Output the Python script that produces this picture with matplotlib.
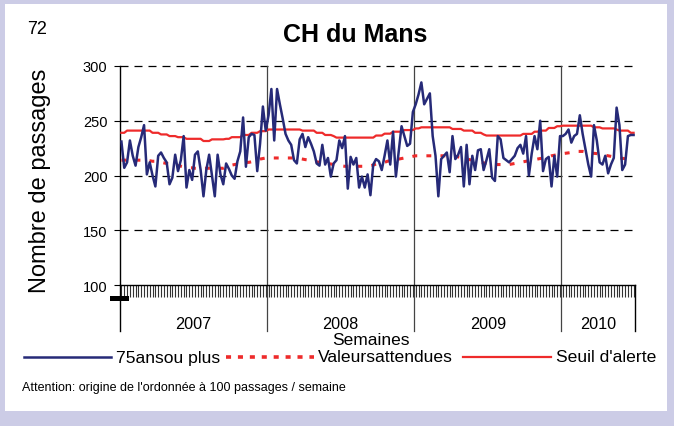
import numpy as np
import matplotlib
matplotlib.use("Agg")
import matplotlib.pyplot as plt
from matplotlib.lines import Line2D
from matplotlib.patches import Rectangle
import matplotlib.transforms as mtransforms

plt.rcParams['font.family'] = ['Liberation Sans', 'DejaVu Sans']

# ---------------- data ----------------
years = ["2007", "2008", "2009", "2010"]
weeks_per_year = [52, 52, 52, 26]

passages_2007 = [231, 207, 212, 232, 218, 209, 226, 235, 246, 201,
                 212, 200, 190, 218, 221, 216, 212, 192, 198, 219,
                 204, 214, 236, 189, 205, 196, 219, 222, 205, 181,
                 205, 219, 200, 181, 219, 201, 192, 211, 206, 200,
                 197, 213, 222, 253, 208, 235, 238, 237, 204, 229,
                 263, 241]
passages_2008 = [255, 279, 232, 279, 265, 252, 238, 232, 228, 214,
                 211, 233, 238, 226, 235, 229, 222, 211, 209, 228,
                 210, 216, 199, 211, 214, 232, 225, 236, 188, 217,
                 210, 216, 189, 199, 189, 201, 182, 210, 215, 213,
                 205, 218, 232, 210, 240, 199, 222, 245, 236, 227,
                 229, 258]
passages_2009 = [265, 274, 285, 265, 270, 275, 236, 218, 181, 215,
                 218, 221, 203, 236, 215, 219, 226, 190, 228, 192,
                 218, 205, 223, 224, 205, 214, 224, 198, 195, 236,
                 233, 216, 214, 212, 215, 218, 225, 228, 220, 236,
                 200, 220, 236, 224, 250, 204, 215, 217, 190, 218,
                 199, 236]
passages_2010 = [236, 238, 242, 230, 236, 238, 255, 238, 224, 210,
                 199, 246, 232, 212, 210, 218, 202, 210, 216, 262,
                 246, 205, 210, 236, 237, 237]

attendu_2007 = [214, 214, 214, 214, 214, 214, 214, 214, 214, 214,
                213.5, 213, 213, 212.5, 212, 211.5, 211, 210.5, 210, 209.5,
                209, 208.5, 208, 207.5, 207, 207, 206.6, 206.6, 206.6, 206.6,
                206.6, 206.6, 206.6, 206.6, 206.6, 206.6, 206.6, 207.5, 208.5, 209.5,
                210, 210.5, 211, 211.5, 212, 212, 212.5, 213, 214, 215,
                215.5, 216]
attendu_2008 = [216, 216, 216, 216, 216, 216, 216, 216, 216, 216,
                216, 215.5, 215, 214.5, 214.2, 213.5, 213, 212.5, 212, 212,
                211.5, 211, 210.5, 210, 209.6, 209, 208.7, 208.4, 208.4, 208.4,
                208.4, 208.4, 208.4, 208.4, 208.4, 208.4, 209, 209.5, 210.5, 211,
                211.5, 212, 213, 213.5, 214, 214.5, 215, 215.5, 216, 216.6,
                217, 217.5]
attendu_2009 = [218, 218, 218, 218, 218, 218, 218, 218, 218, 218,
                218, 218, 218, 218, 217.5, 217, 216.5, 216, 215, 214.5,
                214, 213, 212.5, 212, 211.5, 211, 210.5, 210, 210, 210,
                210, 210, 210, 210, 210.5, 211, 211.5, 212, 212.5, 213,
                213.5, 214, 214.5, 215, 215.5, 216, 216.5, 217, 218, 218.5,
                219, 219.5]
attendu_2010 = [220, 220.3, 220.5, 221, 221.5, 222, 222, 222, 221.5, 221,
                220.5, 220.3, 220, 219.5, 219, 218.5, 218, 217.5, 217, 216.5,
                216, 215.7, 215.5, 215, 215, 215]

seuil_2007 = [239, 239, 241, 241, 241, 241, 241, 241, 241, 241,
              241, 239, 239, 239, 237.5, 237.5, 237.5, 236, 236, 236,
              235, 235, 235, 233.5, 233.5, 233.5, 233.5, 233.5, 233.5, 231.5,
              231.5, 231.5, 233, 233, 233, 233, 233, 233.5, 233.5, 235,
              235, 235, 235, 237, 237, 237, 239, 239, 239, 240.5,
              240.5, 240.5]
seuil_2008 = [242, 242, 242, 242, 242, 242, 242, 242, 242, 242,
              242, 242, 241, 241, 241, 241, 241, 239, 239, 239,
              237, 237, 237, 236, 234.6, 234.6, 234.6, 234.6, 234.6, 234.6,
              234.6, 234.6, 234.6, 234.6, 234.6, 234.6, 234.6, 234.6, 236.5, 236.5,
              236.5, 238.2, 238.2, 238.2, 240, 240, 240, 240, 241.5, 241.5,
              241.5, 241.5]
seuil_2009 = [243, 243, 244, 244, 244, 244, 244, 244, 244, 244,
              244, 244, 244, 242.5, 242.5, 242.5, 242.5, 241, 241, 241,
              241, 239, 239, 239, 237.5, 236.5, 236.5, 236.5, 236.5, 236.5,
              236.5, 236.5, 236.5, 236.5, 236.5, 236.5, 236.5, 236.5, 238, 238,
              238, 238, 240, 240, 241, 241, 241, 243.4, 243.4, 243.4,
              245, 245]
seuil_2010 = [245.5, 245.5, 245.5, 245.5, 245.5, 245.5, 245.5, 245.5, 245.5, 245.5,
              245.5, 244, 244, 244, 243, 243, 243, 243, 243, 242,
              241, 241, 241, 241, 239, 239]

y_ticks = [100, 150, 200, 250, 300]

passages = passages_2007 + passages_2008 + passages_2009 + passages_2010
attendu = attendu_2007 + attendu_2008 + attendu_2009 + attendu_2010
seuil = seuil_2007 + seuil_2008 + seuil_2009 + seuil_2010

# ---------------- figure ----------------
W, H = 674, 427
fig = plt.figure(figsize=(W / 100, H / 100), dpi=100, facecolor='#CCCCE6')
fig.patches.append(Rectangle((5 / W, 15 / H), 662 / W, 407 / H,
                             transform=fig.transFigure, facecolor='white',
                             edgecolor='none', zorder=-5))

ax = fig.add_axes([120 / W, (H - 286) / H, 515 / W, 219 / H])
ax.set_zorder(1)
ax.patch.set_visible(False)

n = len(passages)
x = np.arange(n)
ax.set_xlim(-0.5, n - 0.5)
ax.set_ylim(100, 300)

for yv in y_ticks[1:]:
    ax.axhline(yv, color='black', lw=0.9, ls=(0, (6.4, 4.8)), zorder=1, clip_on=False)

trans = mtransforms.blended_transform_factory(ax.transData, ax.transAxes)
bounds = list(np.cumsum(weeks_per_year) - 0.5)
starts = [-0.5] + bounds[:-1]
low = -0.21
for b in bounds[:-1]:
    ax.plot([b, b], [low, 1.0], transform=trans, color='#444444', lw=0.9,
            clip_on=False, zorder=2)
ax.plot([-0.5, -0.5], [low, 0], transform=trans, color='black', lw=1.0, clip_on=False)
ax.plot([bounds[-1], bounds[-1]], [low, 0], transform=trans, color='black', lw=1.0, clip_on=False)

for s, e, yr in zip(starts, bounds, years):
    ax.text((s + e) / 2, -0.178, yr, transform=trans, ha='center', va='center',
            fontsize=11.7, color='black')

ax.text((371 - 120) / 515, -0.25, 'Semaines', transform=ax.transAxes,
        ha='center', va='center', fontsize=12.5)

ax.plot(x, seuil, color='#EE2B2B', lw=1.6, zorder=3)
ax.plot(x, attendu, color='#EE2B2B', lw=2.2, ls=(0, (1.6, 3.0)), zorder=3)
ax.plot(x, passages, color='#262A78', lw=1.8, zorder=4)

ax.set_xticks(x)
ax.set_xticklabels([])
ax.tick_params(axis='x', direction='out', length=8.6, width=0.8, color='#333333')
ax.set_yticks(y_ticks)
ax.set_yticklabels([str(v) for v in y_ticks])
ax.tick_params(axis='y', direction='out', length=4, width=0.8, labelsize=10.5, pad=5)

for side in ['top', 'right']:
    ax.spines[side].set_visible(False)
ax.spines['left'].set_linewidth(1.0)
ax.spines['bottom'].set_linewidth(1.0)

# small black bar below the axis origin
fig.patches.append(Rectangle((110 / W, (H - 302) / H), 19 / W, 5 / H,
                             transform=fig.transFigure, facecolor='black',
                             edgecolor='none', zorder=5))

# texts
fig.text(27 / W, 1 - 30 / H, '72', fontsize=13, ha='left', va='center')
fig.text(355.5 / W, 1 - 35 / H, 'CH du Mans', fontsize=18, fontweight='bold',
         ha='center', va='center')
fig.text(40 / W, 1 - 181 / H, 'Nombre de passages', rotation=90, fontsize=17,
         ha='center', va='center')

# legend
ly = 1 - 358 / H
fig.lines.append(Line2D([24 / W, 111 / W], [ly, ly], transform=fig.transFigure,
                        color='#262A78', lw=1.8))
fig.text(116 / W, ly, '75ansou plus', fontsize=12.6, ha='left', va='center')
fig.lines.append(Line2D([226 / W, 314 / W], [ly, ly], transform=fig.transFigure,
                        color='#EE2B2B', lw=2.6, ls=(0, (1.4, 1.9))))
fig.text(318 / W, ly, 'Valeursattendues', fontsize=12.6, ha='left', va='center')
fig.lines.append(Line2D([463 / W, 551 / W], [ly, ly], transform=fig.transFigure,
                        color='#EE2B2B', lw=1.6))
fig.text(555.5 / W, ly, "Seuil d'alerte", fontsize=12.6, ha='left', va='center')

fig.text(22 / W, 1 - 388 / H, "Attention: origine de l'ordonnée à 100 passages / semaine",
         fontsize=9, ha='left', va='center')

fig.savefig('out.png', dpi=100, facecolor=fig.get_facecolor())
